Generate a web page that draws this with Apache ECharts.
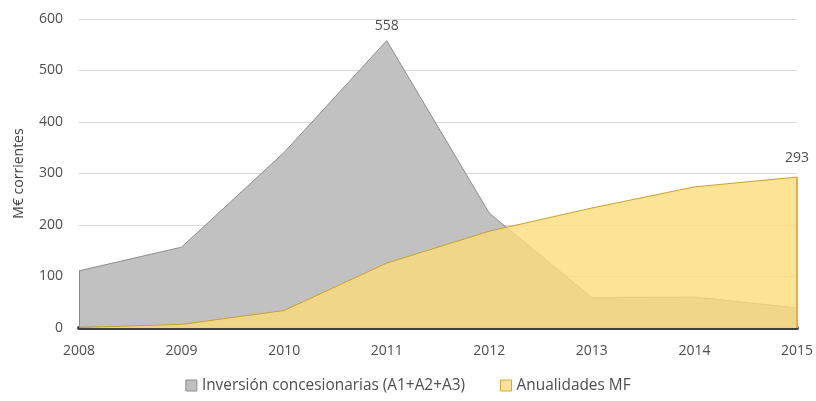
<!DOCTYPE html>
<html>
<head>
<meta charset="utf-8">
<script src="https://cdn.jsdelivr.net/npm/echarts@6/dist/echarts.min.js"></script>
<style>html,body{margin:0;padding:0;background:#fff}#c{width:816px;height:401px}</style>
</head>
<body>
<div id="c"></div>
<script>
const years = ['2008','2009','2010','2011','2012','2013','2014','2015'];
const inversion = [111, 157, 341, 558, 223, 59, 60, 39];
const anualidades = [1, 7, 34, 126, 188, 233, 274, 293];
const yTicks = [0, 100, 200, 300, 400, 500, 600];
const labelled = {inversion: 3, anualidades: 7};
const seriesNames = ['Inversión concesionarias (A1+A2+A3)', 'Anualidades MF'];

const font = '"Open Sans", Carlito, sans-serif';
const txt = '#4d4d4d';

function withLabel(arr, idx) {
  return arr.map((v, i) => i === idx ? {value: v, label: {show: true}} : v);
}

const chart = echarts.init(document.getElementById('c'), null, {renderer: 'canvas'});
chart.setOption({
  animation: false,
  textStyle: {fontFamily: font},
  grid: {left: 79, right: 19, top: 19, bottom: 73},
  legend: {
    bottom: 3,
    left: 'center',
    itemWidth: 11, itemHeight: 11,
    itemGap: 35,
    icon: 'rect',
    textStyle: {fontFamily: font, fontSize: 15.4, color: txt},
    data: [
      {name: seriesNames[0], itemStyle: {color: '#bfbfbf', borderColor: '#8c8c8c', borderWidth: 1}},
      {name: seriesNames[1], itemStyle: {color: '#fde39a', borderColor: '#d6a82a', borderWidth: 1}}
    ]
  },
  xAxis: {
    type: 'category',
    data: years,
    boundaryGap: false,
    axisLine: {lineStyle: {color: '#404040', width: 4}},
    axisTick: {show: false},
    axisLabel: {color: txt, fontSize: 14, margin: 16, fontFamily: font},
    splitLine: {show: false}
  },
  yAxis: {
    type: 'value',
    min: yTicks[0], max: yTicks[yTicks.length - 1], interval: 100,
    name: 'M€ corrientes',
    nameLocation: 'middle',
    nameGap: 53,
    nameTextStyle: {color: '#404040', fontSize: 14, fontFamily: font},
    axisLine: {show: false},
    axisTick: {show: false},
    axisLabel: {color: txt, fontSize: 14, margin: 16, fontFamily: font},
    splitLine: {lineStyle: {color: '#d9d9d9', width: 1}}
  },
  series: [
    {
      name: seriesNames[0],
      type: 'line',
      data: withLabel(inversion, labelled.inversion),
      symbol: 'circle',
      symbolSize: 0,
      showSymbol: true,
      lineStyle: {color: '#8c8c8c', width: 1},
      itemStyle: {color: '#bfbfbf'},
      areaStyle: {color: '#bcbcbc', opacity: 0.93},
      label: {position: 'top', color: txt, fontSize: 14, fontFamily: font, distance: 8},
      markLine: {
        silent: true, symbol: 'none', label: {show: false},
        lineStyle: {color: '#8c8c8c', width: 1, type: 'solid'},
        data: [[{coord: [years[0], 0]}, {coord: [years[0], inversion[0]]}]]
      },
      z: 2
    },
    {
      name: seriesNames[1],
      type: 'line',
      data: withLabel(anualidades, labelled.anualidades),
      symbol: 'circle',
      symbolSize: 0,
      showSymbol: true,
      lineStyle: {color: '#c9a030', width: 1},
      itemStyle: {color: '#fde39a'},
      areaStyle: {color: '#fcdc7c', opacity: 0.8},
      label: {position: 'top', color: txt, fontSize: 14, fontFamily: font, distance: 12},
      markLine: {
        silent: true, symbol: 'none', label: {show: false},
        lineStyle: {color: '#d9b44a', width: 2, type: 'solid'},
        data: [[{coord: [years[7], 0]}, {coord: [years[7], anualidades[7]]}]]
      },
      z: 3
    }
  ]
});
</script>
</body>
</html>
